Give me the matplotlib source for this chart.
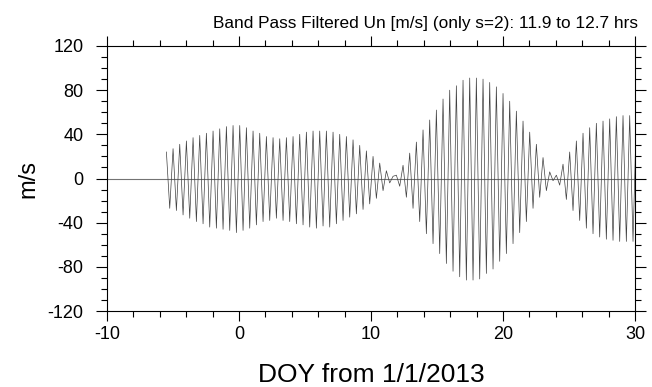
import numpy as np
import matplotlib.pyplot as plt
from matplotlib.ticker import MultipleLocator

plt.rcParams['font.family'] = 'Liberation Sans'
plt.rcParams['axes.unicode_minus'] = False

# half-period extrema of the filtered wind
t_start = -5.5      # day of first extremum
half_step = 0.2525  # days between successive extrema

# up to the first node (~day 11.7)
peaks_a = [24, -27, 27, -29, 31, -33, 34, -36, 37, -39,
           39, -41, 41, -44, 43, -45, 45, -46, 47, -47,
           48, -49, 48, -47, 46, -45, 43, -42, 41, -39,
           38, -38, 37, -36, 36, -38, 37, -39, 38, -41,
           40, -42, 42, -44, 43, -45, 43, -43, 43, -44,
           42, -41, 40, -38, 38, -35, 35, -32, 30, -28,
           25, -23, 20, -18, 14, -11, 7, -4, 2]
# after the phase jump, through the big burst to the end
peaks_b = [3, -7, 12, -17, 23, -27, 33, -39, 44, -50,
           53, -59, 62, -68, 72, -77, 80, -84, 84, -89,
           89, -92, 91, -92, 91, -91, 90, -86, 87, -82,
           83, -75, 77, -68, 70, -59, 61, -49, 52, -39,
           42, -27, 31, -17, 19, -11, 6, -2, 3, -6,
           13, -19, 24, -29, 34, -38, 41, -45, 46, -50,
           50, -53, 52, -55, 54, -56, 56, -57, 57, -57,
           57, -57, 57, -57]

un = np.array(peaks_a + peaks_b, dtype=float)
doy = t_start + half_step * np.arange(len(un))

fig = plt.figure(figsize=(6.52, 3.87), dpi=100)
ax = fig.add_axes([107/652, 1 - 311/387, 528/652, 265/387])

ax.axhline(0, color='0.45', lw=0.8, zorder=1)
ax.plot(doy, un, color='0.25', lw=0.5, zorder=2)

ax.set_xlim(-10, 30)
ax.set_ylim(-120, 120)
ax.xaxis.set_major_locator(MultipleLocator(10))
ax.xaxis.set_minor_locator(MultipleLocator(2))
ax.yaxis.set_major_locator(MultipleLocator(40))
ax.yaxis.set_minor_locator(MultipleLocator(10))
ax.tick_params(which='both', direction='out', top=True, right=True,
               width=0.8, labelsize=13)
ax.tick_params(axis='x', which='major', length=7, pad=4)
ax.tick_params(axis='y', which='major', length=8, pad=9)
ax.tick_params(which='minor', length=4)
for s in ax.spines.values():
    s.set_linewidth(0.8)

fig.text(371.5/652, 1 - 382/387, 'DOY from 1/1/2013',
         ha='center', va='baseline', fontsize=19)
fig.text(28/652, 1 - 179/387, 'm/s', rotation=90,
         ha='center', va='center', fontsize=17)
fig.text(425.5/652, 1 - 28/387,
         'Band Pass Filtered Un [m/s] (only s=2): 11.9 to 12.7 hrs',
         ha='center', va='baseline', fontsize=12.4)

fig.savefig('out.png', dpi=100)
